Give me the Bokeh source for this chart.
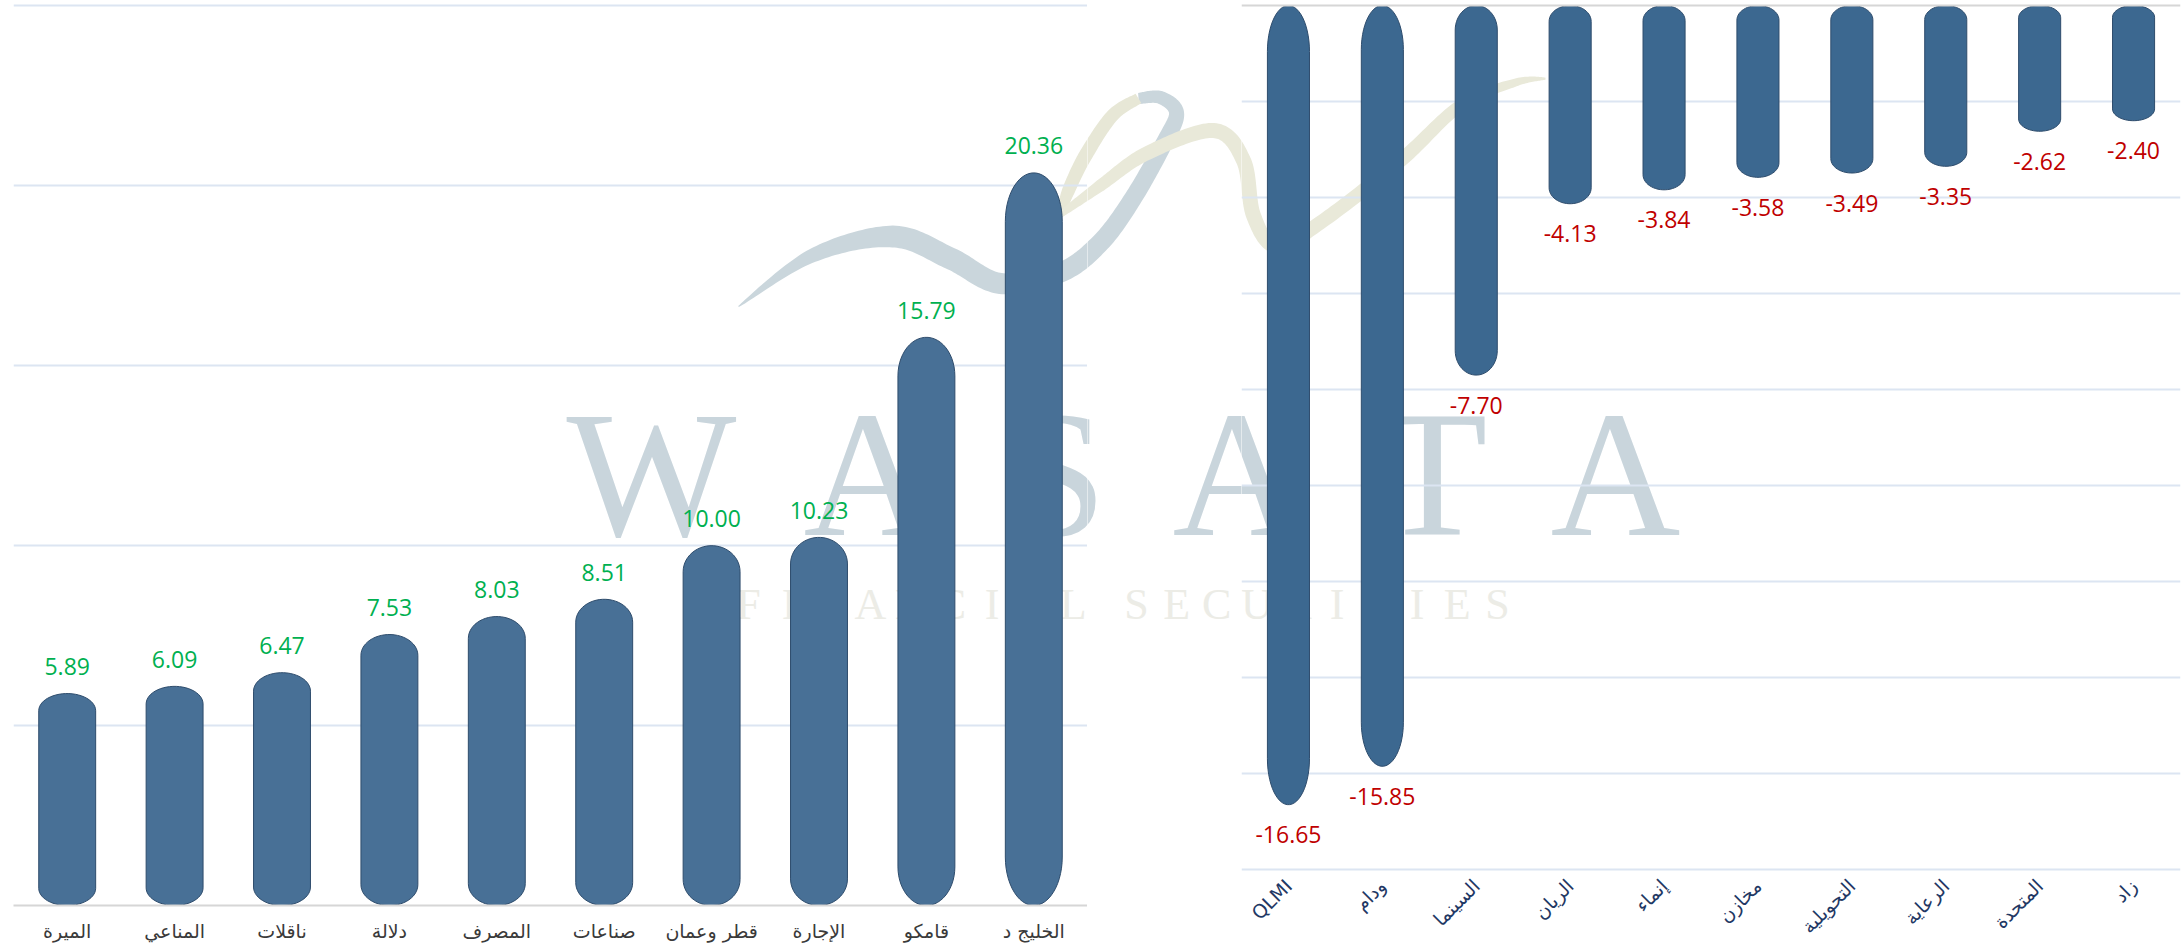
import math
import numpy as np
from bokeh.plotting import figure
from bokeh.models import (ColumnDataSource, FixedTicker, Span, Label, Range1d,
                          PolyAnnotation)
from bokeh.layouts import row
from bokeh.embed import file_html
from bokeh.resources import INLINE
from bokeh.core.properties import value

# ---------------- data ----------------
gainers = ["الميرة", "المناعي", "ناقلات", "دلالة", "المصرف", "صناعات",
           "قطر وعمان", "الإجارة", "قامكو", "الخليج د"]
gainer_values = [5.89, 6.09, 6.47, 7.53, 8.03, 8.51, 10.00, 10.23, 15.79, 20.36]

losers = ["QLMI", "ودام", "السينما", "الريان", "إنماء", "مخازن",
          "التحويلية", "الرعاية", "المتحدة", "زاد"]
loser_values = [-16.65, -15.85, -7.70, -4.13, -3.84, -3.58, -3.49, -3.35, -2.62, -2.40]

gain_grid = [5, 10, 15, 20, 25]
loss_grid = [-2, -4, -6, -8, -10, -12, -14, -16, -18]

watermark_big = ["W", "A", "S", "A", "T", "A"]
watermark_small_1 = "FINANCIAL"
watermark_small_2 = "SECURITIES"

# ---------------- layout constants ----------------
H = 952
BT, BB = 0, 47                     # same top/bottom borders for all plots
FH = H - BT - BB                   # 905 px frame height
L_BL = 13
L_X1 = 1087                        # left frame right edge (page px)
R_X0 = 1241                        # right frame left edge (page px)
R_BR = 2
PAGE_W = 2182
L_W = L_X1
M_W = R_X0 - L_X1
R_W = PAGE_W - R_X0
L_FW = L_W - L_BL
R_FW = R_W - R_BR

L_PPU = 899.6 / 25.0               # px per unit, left
L_YMAX = FH / L_PPU
R_PPU = 864.0 / 18.0               # px per unit, right
R_TOP = 5.0 / R_PPU
R_YMIN = -(FH - 5.0) / R_PPU
L_PPX = L_FW / 10.0
R_PPX = R_FW / 10.0

BLUE_L = "#487096"
BLUE_R = "#3C6890"
EDGE = "#2E4C6C"
GRID = "#DCE5F2"
AXIS = "#D6D6D6"


def capsule(xc, v, hw, cap, n=28):
    """Rounded bar outline from 0 to v (elliptic ends)."""
    sgn = 1.0 if v >= 0 else -1.0
    cap = min(cap, abs(v) / 2.0)
    t = np.linspace(0, np.pi, n)
    end_c = v - sgn * cap
    xs1 = xc + hw * np.cos(t)
    ys1 = end_c + sgn * cap * np.sin(t)
    t2 = np.linspace(np.pi, 2 * np.pi, n)
    base_c = sgn * cap
    xs2 = xc + hw * np.cos(t2)
    ys2 = base_c + sgn * cap * np.sin(t2)
    return list(np.concatenate([xs1, xs2])), list(np.concatenate([ys1, ys2]))


def build(values, hw, ppu, cap_a, cap_b):
    xs, ys = [], []
    for i, v in enumerate(values):
        length_px = abs(v) * ppu
        cap_px = cap_a + cap_b * length_px
        px, py = capsule(i, v, hw, cap_px / ppu)
        xs.append(px)
        ys.append(py)
    return xs, ys


def base_fig(w, bl, br, xr, yr):
    p = figure(width=w, height=H, output_backend="svg", toolbar_location=None,
               x_range=xr, y_range=yr, y_axis_location=None,
               min_border_left=bl, min_border_right=br, min_border_top=BT,
               min_border_bottom=BB, outline_line_color=None,
               background_fill_color="white", border_fill_color="white")
    p.xgrid.visible = False
    p.ygrid.grid_line_color = GRID
    p.ygrid.grid_line_width = 2
    return p


pl = base_fig(L_W, L_BL, 0, Range1d(-0.5, 9.5), Range1d(0, L_YMAX))
pl.ygrid.ticker = FixedTicker(ticks=gain_grid)

# blank spacer plot between the two charts (carries only the watermark)
pm = figure(width=M_W, height=H, output_backend="svg", toolbar_location=None,
            x_range=Range1d(L_X1, R_X0), y_range=Range1d(FH, 0),
            x_axis_location=None, y_axis_location=None,
            min_border_left=0, min_border_right=0, min_border_top=BT,
            min_border_bottom=BB, outline_line_color=None,
            background_fill_color="white", border_fill_color="white")
pm.grid.visible = False

pr = base_fig(R_W, 0, R_BR, Range1d(-0.5, 9.5), Range1d(R_YMIN, R_TOP))
pr.ygrid.ticker = FixedTicker(ticks=loss_grid)


# ---------------- watermark (behind everything) ----------------
def to_left(X, Y):
    return (X - L_BL) / L_PPX - 0.5, (FH - Y) / L_PPU

def to_mid(X, Y):
    return X, Y

def to_right(X, Y):
    return (X - R_X0) / R_PPX - 0.5, -(Y - 5.0) / R_PPU

# figure, converter, frame x-extent on the page
FIGS = [(pl, to_left, L_BL, L_X1), (pm, to_mid, L_X1, R_X0), (pr, to_right, R_X0, PAGE_W - R_BR)]


def figs_for(x0, x1):
    return [(f, c) for f, c, a, b in FIGS if x1 > a and x0 < b]


def ribbon(pts, widths, n=24):
    pts = np.asarray(pts, float)
    widths = np.asarray(widths, float)
    P = np.vstack([pts[0], pts, pts[-1]])
    W = np.concatenate([[widths[0]], widths, [widths[-1]]])
    cx, cy, cw = [], [], []
    for i in range(1, len(P) - 2):
        p0, p1, p2, p3 = P[i - 1], P[i], P[i + 1], P[i + 2]
        for t in np.linspace(0, 1, n, endpoint=False):
            t2, t3 = t * t, t * t * t
            pt = 0.5 * ((2 * p1) + (-p0 + p2) * t + (2 * p0 - 5 * p1 + 4 * p2 - p3) * t2
                        + (-p0 + 3 * p1 - 3 * p2 + p3) * t3)
            cx.append(pt[0]); cy.append(pt[1])
            cw.append(W[i] + (W[i + 1] - W[i]) * t)
    cx.append(pts[-1][0]); cy.append(pts[-1][1]); cw.append(widths[-1])
    cx, cy, cw = np.array(cx), np.array(cy), np.array(cw)
    dx, dy = np.gradient(cx), np.gradient(cy)
    nrm = np.hypot(dx, dy) + 1e-9
    nx, ny = -dy / nrm, dx / nrm
    lxs = cx + nx * cw / 2; lys = cy + ny * cw / 2
    rxs = cx - nx * cw / 2; rys = cy - ny * cw / 2
    return np.concatenate([lxs, rxs[::-1]]), np.concatenate([lys, rys[::-1]])


swoosh = [
    ([(738, 306), (812, 255), (892, 236), (950, 258), (1000, 283), (1060, 272),
      (1100, 242), (1133, 197), (1165, 140), (1176, 112), (1160, 97), (1138, 98)],
     [1, 14, 22, 22, 21, 20, 19, 18, 17, 15, 13, 11], "#CAD6DC"),
    ([(1138, 98), (1112, 115), (1085, 155), (1068, 190), (1060, 214)],
     [11, 13, 14, 13, 8], "#E7E7D6"),
    ([(1060, 214), (1100, 185), (1146, 153), (1213, 130), (1243, 160), (1253, 215),
      (1276, 246), (1320, 222), (1400, 160), (1460, 105), (1515, 82), (1545, 78)],
     [6, 12, 14, 15, 15, 15, 14, 14, 14, 12, 8, 2], "#E9E9D9"),
]

for pts, wds, col in swoosh:
    sx, sy = ribbon(pts, wds)
    for fig, conv in figs_for(min(sx), max(sx)):
        cxs, cys = zip(*[conv(a, b) for a, b in zip(sx, sy)])
        fig.add_layout(PolyAnnotation(xs=list(cxs), ys=list(cys), fill_color=col,
                                      fill_alpha=1.0, line_color=None, level="image"))

big_centers = [651, 868, 1056, 1237, 1432, 1615]
big_half = [92, 68, 48, 68, 58, 68]
for ch, cx, hw in zip(watermark_big, big_centers, big_half):
    for fig, conv in figs_for(cx - hw, cx + hw):
        x, y = conv(cx, 474)
        fig.add_layout(Label(x=x, y=y, text=ch, text_align="center",
                             text_baseline="alphabetic", text_font="Liberation Serif",
                             text_font_size="180px", text_color="#C9D5DC", level="image"))

small_centers = [748 + 40.6 * k for k in range(len(watermark_small_1))] + \
                [1136 + 40.1 * k for k in range(len(watermark_small_2))]
for ch, cx in zip(watermark_small_1 + watermark_small_2, small_centers):
    for fig, conv in figs_for(cx - 14, cx + 14):
        x, y = conv(cx, 604)
        fig.add_layout(Label(x=x, y=y, text=ch, text_align="center",
                             text_baseline="alphabetic", text_font="Liberation Serif",
                             text_font_size="44px", text_color="#ECECE6", level="image"))

# ---------------- left chart marks ----------------
lx, ly = build(gainer_values, 0.265, L_PPU, 4.5, 0.06)
pl.patches(xs=lx, ys=ly, fill_color=BLUE_L, line_color=EDGE, line_width=1)

lsrc = ColumnDataSource(dict(x=list(range(len(gainers))), y=gainer_values,
                             t=[f"{v:.2f}" for v in gainer_values]))
pl.text(x="x", y="y", text="t", source=lsrc, y_offset=-27, text_align="center",
        text_baseline="middle", text_color="#00B050", text_font=value("Open Sans"),
        text_font_size="23px")

ax = pl.xaxis[0]
ax.ticker = FixedTicker(ticks=list(range(len(gainers))))
ax.major_label_overrides = {i: n for i, n in enumerate(gainers)}
ax.axis_line_color = AXIS
ax.axis_line_width = 2
ax.major_tick_line_color = None
ax.minor_tick_line_color = None
ax.major_label_standoff = 8
ax.major_label_text_font = "DejaVu Sans"
ax.major_label_text_font_size = "19px"
ax.major_label_text_color = "#3A3A3A"

# ---------------- right chart marks ----------------
pr.add_layout(Span(location=0, dimension="width", line_color=AXIS, line_width=2))

rx, ry = build(loser_values, 0.224, R_PPU, 6.0, 0.05)
pr.patches(xs=rx, ys=ry, fill_color=BLUE_R, line_color=EDGE, line_width=1)

rsrc = ColumnDataSource(dict(x=list(range(len(losers))), y=loser_values,
                             t=[f"{v:.2f}" for v in loser_values]))
pr.text(x="x", y="y", text="t", source=rsrc, y_offset=30, text_align="center",
        text_baseline="middle", text_color="#C00000", text_font=value("Open Sans"),
        text_font_size="23px")

bx = pr.xaxis[0]
bx.ticker = FixedTicker(ticks=list(range(len(losers))))
bx.major_label_overrides = {i: n for i, n in enumerate(losers)}
bx.axis_line_color = None
bx.major_tick_line_color = None
bx.minor_tick_line_color = None
bx.major_label_standoff = -29
bx.major_label_orientation = math.pi / 4
bx.major_label_text_font = "DejaVu Sans"
bx.major_label_text_font_size = "19px"
bx.major_label_text_color = "#1F3864"

layout = row(pl, pm, pr, spacing=0)
open("out.html", "w").write(file_html(layout, INLINE))
